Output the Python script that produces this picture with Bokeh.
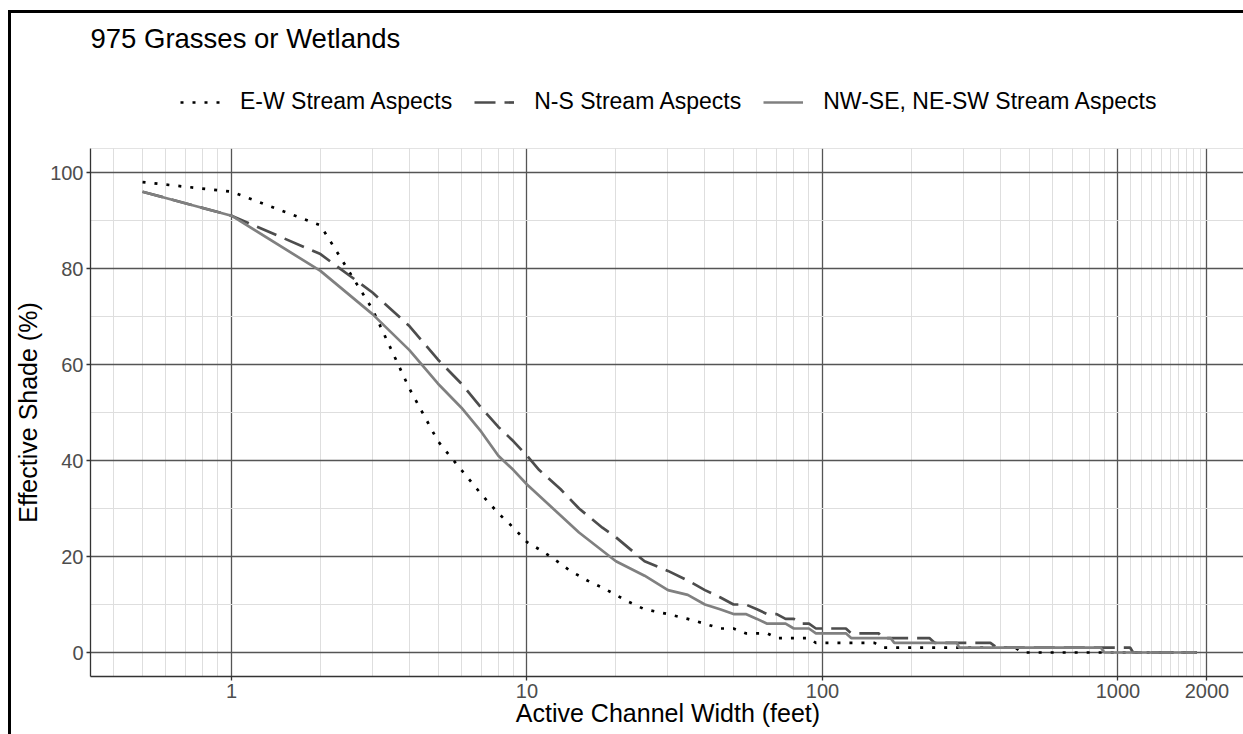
from bokeh.plotting import figure
from bokeh.layouts import column, row
from bokeh.models import (Range1d, FixedTicker, CustomJSTickFormatter, Legend,
                          LegendItem, Span, Label, Div)
from bokeh.embed import file_html
from bokeh.resources import INLINE

# ---------------- data ----------------
title_text = "975 Grasses or Wetlands"
x_label = "Active Channel Width (feet)"
y_label = "Effective Shade (%)"
series_names = ["E-W Stream Aspects", "N-S Stream Aspects", "NW-SE, NE-SW Stream Aspects"]

ew_width = [0.5, 1, 2, 3, 4, 5, 6, 7, 8, 9, 10, 11, 12, 13, 14, 15, 16, 18, 20, 22, 25,
            30, 35, 40, 45, 50, 55, 65, 70, 90, 95, 150, 160, 450, 475, 1850]
ew_shade = [98, 96, 89, 71.5, 55, 44, 38, 33, 29, 26, 23, 21.5, 20, 18.5, 17, 16, 15, 13.5, 12, 10.6, 9,
            8, 7, 6, 5, 5, 4, 4, 3, 3, 2, 2, 1, 1, 0, 0]

ns_width = [0.5, 1, 2, 3, 4, 5, 6, 7, 8, 9, 10, 11, 13, 15, 18, 20, 25, 30, 35, 40, 45, 50, 55,
            60, 65, 70, 75, 80, 85, 90, 95, 120, 125, 155, 160, 230, 240, 370, 390, 1100, 1125, 1850]
ns_shade = [96, 91, 83, 75, 68, 61, 56, 51, 47, 44, 41, 38, 34, 30, 26, 24, 19, 17, 15, 13, 11.5, 10, 10,
            9, 8, 8, 7, 7, 6, 6, 5, 5, 4, 4, 3, 3, 2, 2, 1, 1, 0, 0]

nw_width = [0.5, 1, 2, 3, 4, 5, 6, 7, 8, 9, 10, 15, 20, 25, 30, 35, 40, 45, 50, 55, 60, 65, 75,
            80, 90, 95, 120, 125, 170, 175, 285, 290, 875, 900, 1850]
nw_shade = [96, 91, 79.5, 70.5, 63, 56, 51, 46, 41, 38, 35, 25, 19, 16, 13, 12, 10, 9, 8, 8, 7, 6, 6,
            5, 5, 4, 4, 3, 3, 2, 2, 1, 1, 0, 0]

x_major = [1, 10, 100, 1000, 2000]
x_minor = [0.4, 0.5, 0.6, 0.7, 0.8, 0.9, 2, 3, 4, 5, 6, 7, 8, 9, 20, 30, 40, 50, 60, 70, 80, 90,
           200, 300, 400, 500, 600, 700, 800, 900, 1100, 1200, 1300, 1400, 1500, 1600, 1700, 1800, 1900]
y_major = [0, 20, 40, 60, 80, 100]
y_minor = [10, 30, 50, 70, 90]

series = [(ew_width, ew_shade), (ns_width, ns_shade), (nw_width, nw_shade)]

# ---------------- styles / layout constants ----------------
FONT = "Liberation Sans"
STYLES = [dict(line_color="#000000", line_width=2.7, line_dash="3 9"),
          dict(line_color="#4d4d4d", line_width=2.7, line_dash="21 9"),
          dict(line_color="#808080", line_width=2.7, line_dash="solid")]
PAGE_W, PAGE_H = 1243, 734
BORDER_X, BORDER_W, BORDER_TOP = 8, 3, 10
X0 = BORDER_X + BORDER_W          # content starts right of the black border
Y0 = BORDER_TOP + BORDER_W        # content starts below the black border
FRAME_L, FRAME_T = 88, 148        # page position of the plot frame
FRAME_W, FRAME_H = PAGE_W - FRAME_L, 528


def bare_figure(w, h, xr, yr, left):
    f = figure(width=w, height=h, x_range=xr, y_range=yr, title=None,
               x_axis_location=None, y_axis_location=None,
               output_backend="svg", toolbar_location=None,
               min_border_left=left, min_border_right=0, min_border_top=0, min_border_bottom=0)
    f.grid.visible = False
    f.outline_line_color = None
    f.background_fill_color = "white"
    f.border_fill_color = "white"
    return f


# ---------------- header: title + legend (page pixel coordinates) ----------------
hdr = bare_figure(PAGE_W - X0, FRAME_T - Y0, Range1d(FRAME_L, PAGE_W), Range1d(FRAME_T, Y0),
                  FRAME_L - X0)
hdr.extra_x_ranges = {"keys": Range1d(1e5, 2e5)}   # keeps the key renderers out of view
hdr.add_layout(Label(x=FRAME_L, y=38, text=title_text, text_font=FONT, text_font_size="27.5px",
                     text_color="black", text_align="left", text_baseline="middle"))
keys = [hdr.line(xs, ys, x_range_name="keys", **st) for (xs, ys), st in zip(series, STYLES)]
legend = Legend(items=[LegendItem(label=series_names[i], renderers=[keys[i]]) for i in range(3)],
                orientation="horizontal", location=(178 - FRAME_L, FRAME_T - 115),
                label_text_font=FONT, label_text_font_size="23px", label_text_color="black",
                glyph_width=40, glyph_height=26, label_height=26, label_standoff=20, spacing=22,
                padding=0, margin=0, border_line_color=None, background_fill_alpha=0)
hdr.add_layout(legend, "center")

# ---------------- main plot ----------------
p = figure(frame_width=FRAME_W, frame_height=FRAME_H, x_axis_type="log", title=None,
           x_range=Range1d(1 / 3, 2701), y_range=Range1d(-5, 105),
           output_backend="svg", toolbar_location=None,
           min_border_left=FRAME_L - X0, min_border_right=0, min_border_top=0,
           min_border_bottom=PAGE_H - FRAME_T - FRAME_H)
p.background_fill_color = "white"
p.border_fill_color = "white"
p.outline_line_color = None

for ax in (p.xaxis[0], p.yaxis[0]):
    ax.axis_line_color = "#333333"
    ax.axis_line_width = 1.3
    ax.major_tick_line_color = "#333333"
    ax.major_tick_line_width = 1.3
    ax.major_tick_in = 0
    ax.major_tick_out = 4
    ax.minor_tick_line_color = None
    ax.major_label_text_font = FONT
    ax.major_label_text_font_size = "20px"
    ax.major_label_text_color = "#4d4d4d"
    ax.axis_label_text_font = FONT
    ax.axis_label_text_font_size = "25px"
    ax.axis_label_text_font_style = "normal"
    ax.axis_label_text_color = "black"

p.xaxis.ticker = FixedTicker(ticks=x_major, minor_ticks=x_minor)
p.xaxis.formatter = CustomJSTickFormatter(code="return String(tick);")
p.xaxis.axis_label = x_label
p.xaxis.major_label_standoff = 3
p.xaxis.axis_label_standoff = -2

p.yaxis.ticker = FixedTicker(ticks=y_major, minor_ticks=y_minor)
p.yaxis.axis_label = y_label
p.yaxis.major_label_standoff = 3
p.yaxis.axis_label_standoff = 5

for g in (p.xgrid[0], p.ygrid[0]):
    g.grid_line_color = "#555555"
    g.grid_line_width = 1.3
    g.minor_grid_line_color = "#dedede"
    g.minor_grid_line_width = 1.0

p.add_layout(Span(location=105, dimension="width", line_color="#c8c8c8", line_width=1))

for (xs, ys), st in zip(series, STYLES):
    p.line(xs, ys, **st)

# black border of the framed image (left and top edges)
left_border = Div(text="", width=BORDER_W, height=PAGE_H - BORDER_TOP,
                  margin=(BORDER_TOP, 0, 0, BORDER_X), styles={"background-color": "black"})
top_border = Div(text="", width=PAGE_W - X0, height=BORDER_W,
                 margin=(BORDER_TOP, 0, 0, 0), styles={"background-color": "black"})

layout = row(left_border, column(top_border, hdr, p))
open("out.html", "w").write(file_html(layout, INLINE))
